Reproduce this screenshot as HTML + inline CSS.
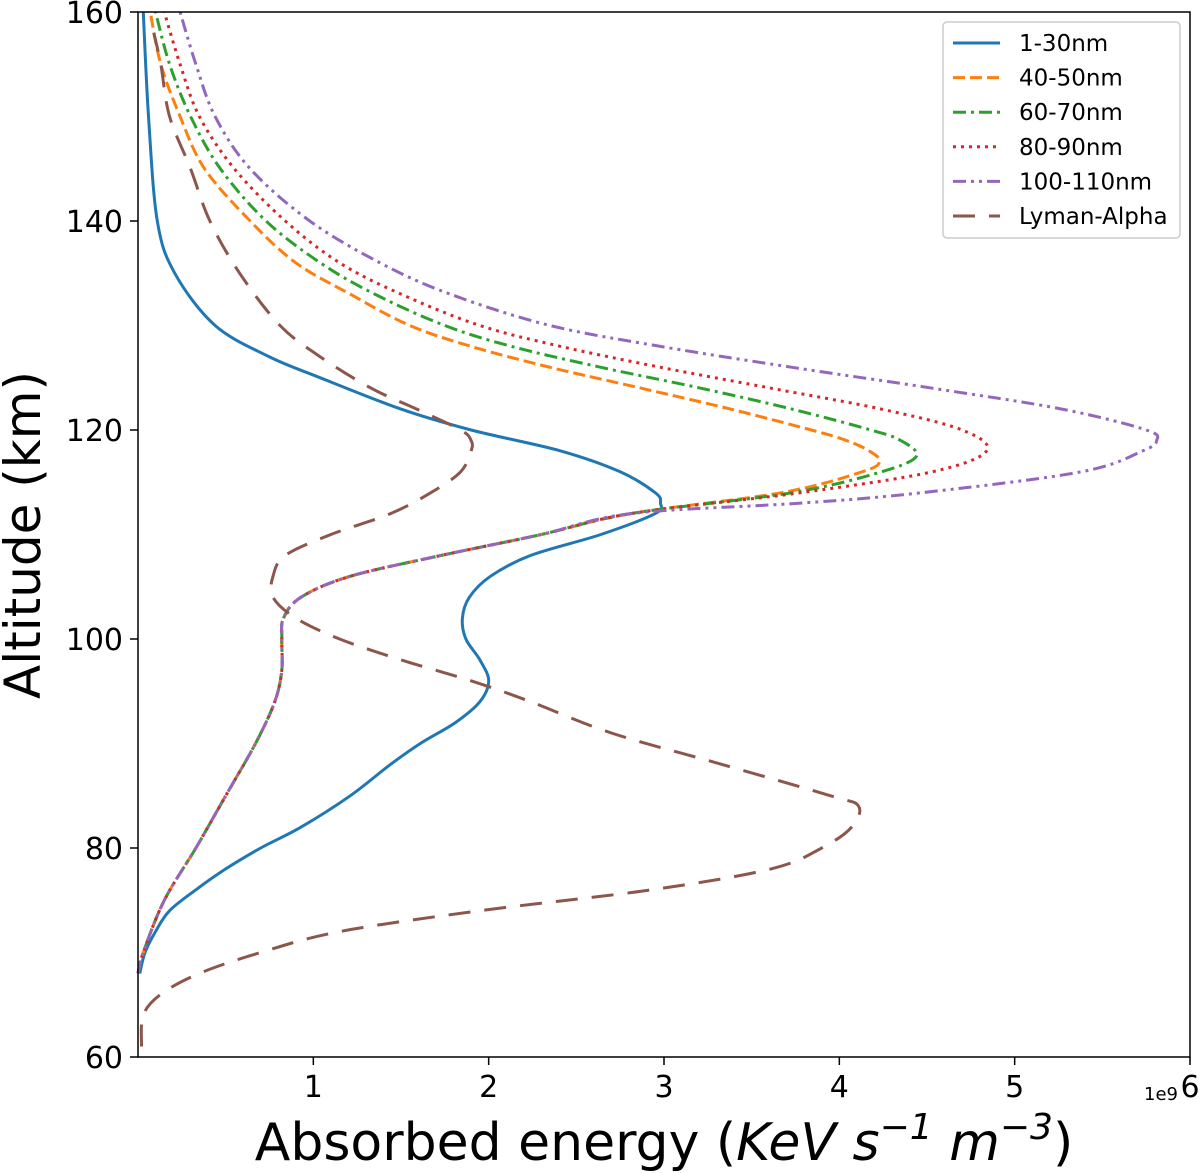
<!DOCTYPE html>
<html><head><meta charset="utf-8"><style>
html,body{margin:0;padding:0;background:#fff}
svg{display:block;font-family:"DejaVu Sans","Liberation Sans",sans-serif}
</style></head><body>
<svg id="chart" width="1200" height="1173" viewBox="0 0 1200 1173">
<g id="marks"></g>
<g id="axes"></g>
</svg>
<script>
const xTicks=[1,2,3,4,5,6];
const yTicks=[60,80,100,120,140,160];
const seriesNames=["1-30nm","40-50nm","60-70nm","80-90nm","100-110nm","Lyman-Alpha"];
const low=[[68,0.0],[70,0.03],[75,0.15],[80,0.33],[85,0.5],[90,0.67],[94,0.78],[97,0.82],[100,0.82],[102,0.83],[104,0.93],[106,1.21],[108,1.73],[110,2.3],[112,2.81]];
const s1=[[68,0.01],[70,0.04],[72,0.10],[74,0.18],[76,0.33],[78,0.50],[80,0.70],[82,0.93],[85,1.21],[88,1.44],[90,1.61],[92,1.81],[94,1.95],[96,2.0],[98,1.95],[100,1.87],[102,1.85],[104,1.89],[106,2.01],[108,2.24],[110,2.64],[112,2.95],[113,2.98],[114,2.95],[116,2.75],[118,2.41],[120,1.9],[122,1.5],[125,1.04],[127,0.75],[130,0.44],[135,0.21],[140,0.11],[150,0.06],[160,0.03]];
const s2=low.concat([[114,3.67],[116,4.13],[117,4.23],[118,4.17],[119,4.04],[120,3.84],[122,3.38],[124,2.87],[126,2.35],[128,1.9],[130,1.55],[133,1.21],[136,0.9],[140,0.64],[145,0.38],[150,0.24],[155,0.13],[160,0.07]]);
const s3=low.concat([[114,3.73],[116,4.24],[117.5,4.44],[119,4.35],[120,4.18],[122,3.73],[124,3.21],[126,2.64],[128,2.13],[130,1.75],[133,1.35],[136,1.04],[140,0.73],[145,0.47],[150,0.3],[155,0.18],[160,0.1]]);
const s4=low.concat([[114,3.78],[116,4.53],[118,4.84],[120,4.7],[122,4.24],[124,3.61],[126,2.98],[128,2.41],[130,1.95],[133,1.5],[136,1.15],[140,0.84],[145,0.55],[150,0.35],[155,0.24],[160,0.15]]);
const s5=low.concat([[113,3.78],[114,4.47],[116,5.38],[118,5.73],[119,5.81],[120,5.75],[122,5.27],[124,4.53],[126,3.73],[128,2.98],[130,2.35],[133,1.78],[136,1.38],[140,0.98],[145,0.64],[150,0.44],[155,0.33],[160,0.24]]);
const s6=[[61,0.02],[64,0.03],[66,0.13],[68,0.35],[70,0.7],[72,1.15],[74,1.95],[76,2.93],[78,3.61],[80,3.9],[82,4.07],[84,4.11],[85,3.95],[88,3.33],[91,2.7],[94,2.24],[96,1.9],[98,1.5],[100,1.15],[102,0.9],[104,0.77],[106,0.77],[108,0.84],[110,1.1],[112,1.44],[114,1.67],[116,1.84],[118,1.9],[119,1.9],[120,1.84],[122,1.59],[124,1.33],[127,1.04],[130,0.81],[135,0.58],[140,0.41],[145,0.3],[150,0.18],[155,0.13],[158,0.09]];
const allSeries=[s1,s2,s3,s4,s5,s6];
const colors=["#1f77b4","#ff7f0e","#2ca02c","#d62728","#9467bd","#8c564b"];
const dashes=["","12,5","13,5,3,5","3,5","13,5,3,5,3,5","22,14"];
const L=138,R=1190,T=12,B=1057;
const sx=v=>L+v*(R-L)/6;
const sy=a=>B-(a-60)*(B-T)/100;
const NS="http://www.w3.org/2000/svg";
function mk(tag,attrs,parent){const e=document.createElementNS(NS,tag);for(const k in attrs)e.setAttribute(k,attrs[k]);parent.appendChild(e);return e;}
function smooth(pts){
  let d='M'+pts[0][0].toFixed(1)+','+pts[0][1].toFixed(1);
  for(let i=0;i<pts.length-1;i++){
    const p0=pts[Math.max(0,i-1)],p1=pts[i],p2=pts[i+1],p3=pts[Math.min(pts.length-1,i+2)];
    const c1=[p1[0]+(p2[0]-p0[0])/6,p1[1]+(p2[1]-p0[1])/6];
    const c2=[p2[0]-(p3[0]-p1[0])/6,p2[1]-(p3[1]-p1[1])/6];
    d+='C'+c1[0].toFixed(1)+','+c1[1].toFixed(1)+' '+c2[0].toFixed(1)+','+c2[1].toFixed(1)+' '+p2[0].toFixed(1)+','+p2[1].toFixed(1);
  }
  return d;
}
const marks=document.getElementById('marks'),axes=document.getElementById('axes');
allSeries.forEach((s,i)=>{
  const d=smooth(s.map(p=>[sx(p[1]),sy(p[0])]));
  const p=mk('path',{d:d,fill:'none',stroke:colors[i],'stroke-width':3,'stroke-dasharray':dashes[i]},marks);
  
  
});
const frame=mk('rect',{x:L,y:T,width:R-L,height:B-T,fill:'none',stroke:'#000','stroke-width':1.5},axes);


xTicks.forEach(t=>{
  mk('line',{x1:sx(t),x2:sx(t),y1:B,y2:B+8,stroke:'#000','stroke-width':1.5},axes);
  const tx=mk('text',{x:sx(t),y:B+40,'font-size':30,'text-anchor':'middle'},axes);tx.textContent=t;
  
  
});
yTicks.forEach(t=>{
  mk('line',{x1:L-8,x2:L,y1:sy(t),y2:sy(t),stroke:'#000','stroke-width':1.5},axes);
  const tx=mk('text',{x:L-15,y:sy(t)+11,'font-size':30,'text-anchor':'end'},axes);tx.textContent=t;
  
  
});
const ex=mk('text',{x:1178,y:1100,'font-size':18,'text-anchor':'end'},axes);ex.textContent='1e9';


const xt=mk('text',{x:664,y:1160,'font-size':52,'text-anchor':'middle'},axes);
xt.innerHTML='Absorbed energy (<tspan font-style="italic">KeV s</tspan><tspan font-size="36" dy="-21" font-style="italic">−1</tspan><tspan dy="21" font-style="italic"> m</tspan><tspan font-size="36" dy="-21" font-style="italic">−3</tspan><tspan dy="21">)</tspan>';


const yt=mk('text',{x:40,y:535,'font-size':50,'text-anchor':'middle',transform:'rotate(-90 40 535)'},axes);yt.textContent='Altitude (km)';


const lg=mk('g',{},axes);


mk('rect',{x:943,y:22,width:237,height:216,rx:4,fill:'#fff',stroke:'#ccc','stroke-width':1.5},lg);
seriesNames.forEach((n,i)=>{
  const y=43+i*34.6;
  const ln=mk('line',{x1:953,x2:1000,y1:y,y2:y,stroke:colors[i],'stroke-width':3,'stroke-dasharray':dashes[i]},lg);
  
  
  const t=mk('text',{x:1019,y:y+8,'font-size':23},lg);t.textContent=n;
  
  
});
</script>
</body></html>
